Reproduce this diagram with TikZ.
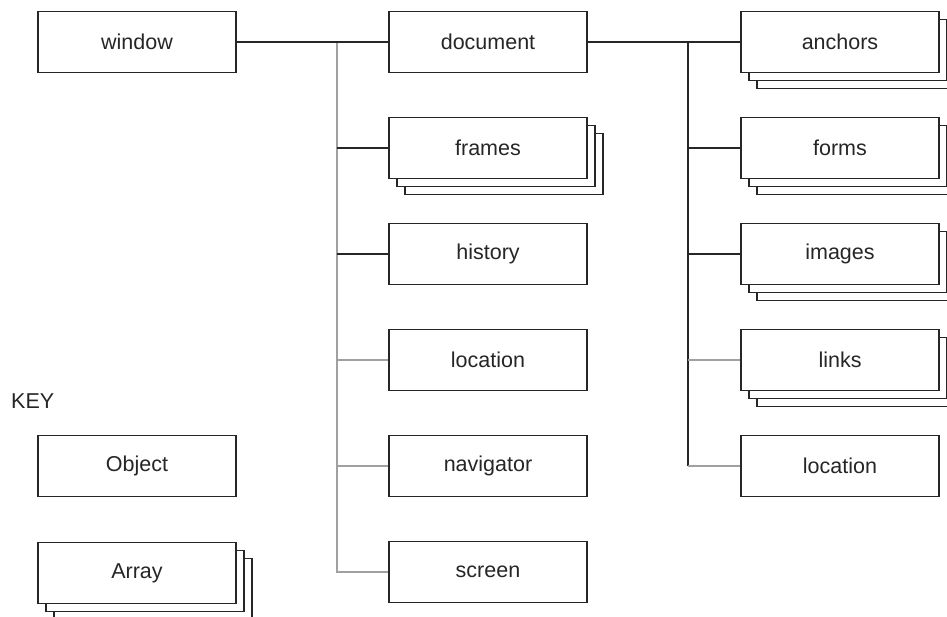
\documentclass[tikz,border=0pt]{standalone}
\usepackage{fontspec}
\setmainfont{Liberation Sans}
\usetikzlibrary{shadows}
\definecolor{ink}{HTML}{262626}
\definecolor{lgray}{HTML}{A0A0A0}
\begin{document}
\begin{tikzpicture}[x=1pt,y=-1pt,
  obj/.style={draw=ink,line width=1.7pt,fill=white,minimum width=198pt,minimum height=61pt,inner sep=0pt,
    font=\fontsize{21.5}{25}\selectfont,text=ink},
  arr/.style={obj,double copy shadow={shadow xshift=8pt,shadow yshift=-8pt}},
  dk/.style={draw=ink,line width=1.7pt},
  gr/.style={draw=lgray,line width=1.9pt}]
\useasboundingbox (0,0) rectangle (947,617);
\fill[white] (0,0) rectangle (947,617);
% middle column
\node[obj] (window) at (137,42) {window};
\node[obj] (document) at (488,42) {document};
\node[arr] (frames) at (488,148) {frames};
\node[obj] (history) at (488,254) {history};
\node[obj] (location) at (488,360) {location};
\node[obj] (navigator) at (488,466) {navigator};
\node[obj] (screen) at (488,572) {screen};
% right column
\node[arr] (anchors) at (840,42) {anchors};
\node[arr] (forms) at (840,148) {forms};
\node[arr] (images) at (840,254) {images};
\node[arr] (links) at (840,360) {links};
\node[obj] (dlocation) at (840,466) {location};
% key
\node[anchor=west,font=\fontsize{21.5}{25}\selectfont,text=ink,inner sep=0pt] (key) at (11,401) {KEY};
\node[obj] (object) at (137,466) {Object};
\node[arr] (array) at (137,573) {Array};
% connectors
\coordinate (m0) at (337,42);
\coordinate (r0) at (688,42);
\draw[gr] (m0) -- (screen.west -| m0) -- (screen.west);
\draw[gr] (location.west -| m0) -- (location.west);
\draw[gr] (navigator.west -| m0) -- (navigator.west);
\draw[dk] (frames.west -| m0) -- (frames.west);
\draw[dk] (history.west -| m0) -- (history.west);
\draw[dk] (window.east) -- (document.west);
\draw[dk] (r0) -- (dlocation.west -| r0);
\draw[gr] (links.west -| r0) -- (links.west);
\draw[gr] (dlocation.west -| r0) -- (dlocation.west);
\draw[dk] (document.east) -- (anchors.west);
\draw[dk] (forms.west -| r0) -- (forms.west);
\draw[dk] (images.west -| r0) -- (images.west);
\end{tikzpicture}
\end{document}
